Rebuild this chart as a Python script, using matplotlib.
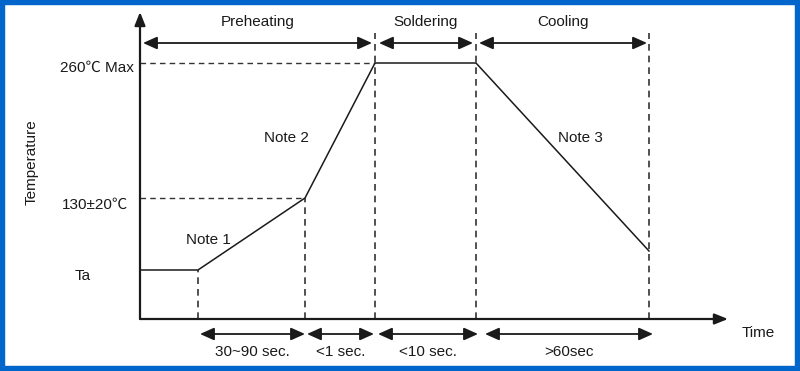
import matplotlib.pyplot as plt
from matplotlib.patches import Rectangle

plt.rcParams['font.family'] = ['Liberation Sans', 'Noto Sans CJK SC', 'DejaVu Sans']

# schematic reflow profile (arbitrary units, origin at axes corner)
prof_t = [0, 58, 165, 235, 336, 509]
prof_temp = [49, 49, 121, 256, 256, 68]

# vertical guide lines: (x, top)
guide_x = [58, 165, 235, 336, 509]
guide_top = [49, 121, 286, 286, 286]

# horizontal guide lines to the temperature labels
hguide_y = [256, 121]
hguide_end = [235, 165]

# phase spans across the top
phase_names = ['Preheating', 'Soldering', 'Cooling']
phase_start = [3, 239, 339]
phase_end = [232, 333, 507]

# duration spans along the bottom
dur_names = ['30~90 sec.', '<1 sec.', '<10 sec.', '>60sec']
dur_start = [60, 167, 238, 345]
dur_end = [165, 234, 338, 513]

temp_labels = ['260\u2103 Max', '130\u00b120\u2103']
temp_label_y = [251, 114]

notes = ['Note 1', 'Note 2', 'Note 3']
note_x = [68, 146, 440]
note_y = [79, 181, 181]

ink = '#1a1a1a'
fs = 11

fig = plt.figure(figsize=(8, 3.71), dpi=100, facecolor='white')
ax = fig.add_axes([0, 0, 1, 1])
ax.set_xlim(-140, 660)
ax.set_ylim(-52, 319)
ax.axis('off')

def span(x0, x1, y, style='<|-|>'):
    ax.annotate('', xy=(x1, y), xytext=(x0, y),
                arrowprops=dict(arrowstyle=style + ',head_length=0.85,head_width=0.38',
                                mutation_scale=10, color=ink, lw=1.3,
                                shrinkA=0, shrinkB=0))

# axes with arrow heads
ax.annotate('', xy=(0, 307), xytext=(0, 0),
            arrowprops=dict(arrowstyle='-|>,head_length=0.8,head_width=0.32',
                            mutation_scale=10, color=ink, lw=1.6,
                            shrinkA=0, shrinkB=0))
ax.annotate('', xy=(588, 0), xytext=(0, 0),
            arrowprops=dict(arrowstyle='-|>,head_length=0.8,head_width=0.32',
                            mutation_scale=10, color=ink, lw=1.6,
                            shrinkA=0, shrinkB=0))

# guides
for x, top in zip(guide_x, guide_top):
    ax.plot([x, x], [0, top], color='#333333', lw=1.2, dashes=(4, 3))
for y, x1 in zip(hguide_y, hguide_end):
    ax.plot([0, x1], [y, y], color='#333333', lw=1.0, dashes=(4, 3))

# profile
ax.plot(prof_t, prof_temp, color=ink, lw=1.1, solid_joinstyle='miter')

# phase arrows and labels
for name, a, b in zip(phase_names, phase_start, phase_end):
    span(a, b, 276)
    ax.text((a + b) / 2, 297, name, ha='center', va='center', fontsize=fs, color=ink)

for name, a, b in zip(dur_names, dur_start, dur_end):
    span(a, b, -15)
    ax.text((a + b) / 2, -33, name, ha='center', va='center', fontsize=fs, color=ink)

# temperature labels
ax.text(-6, temp_label_y[0], temp_labels[0], ha='right', va='center', fontsize=fs, color=ink)
ax.text(-12, temp_label_y[1], temp_labels[1], ha='right', va='center', fontsize=fs, color=ink)
ax.text(-57, 43, 'Ta', ha='center', va='center', fontsize=fs, color=ink)
ax.text(-108, 157, 'Temperature', ha='center', va='center', rotation=90, fontsize=fs, color=ink)
ax.text(618, -14, 'Time', ha='center', va='center', fontsize=fs, color=ink)

for n, x, y in zip(notes, note_x, note_y):
    ax.text(x, y, n, ha='center', va='center', fontsize=fs, color=ink)

# blue frame
fig.patches.append(Rectangle((0, 0), 1, 1, transform=fig.transFigure, fill=False,
                             edgecolor='#0066cc', lw=7.5, figure=fig))

fig.savefig('out.png', dpi=100, facecolor='white')
